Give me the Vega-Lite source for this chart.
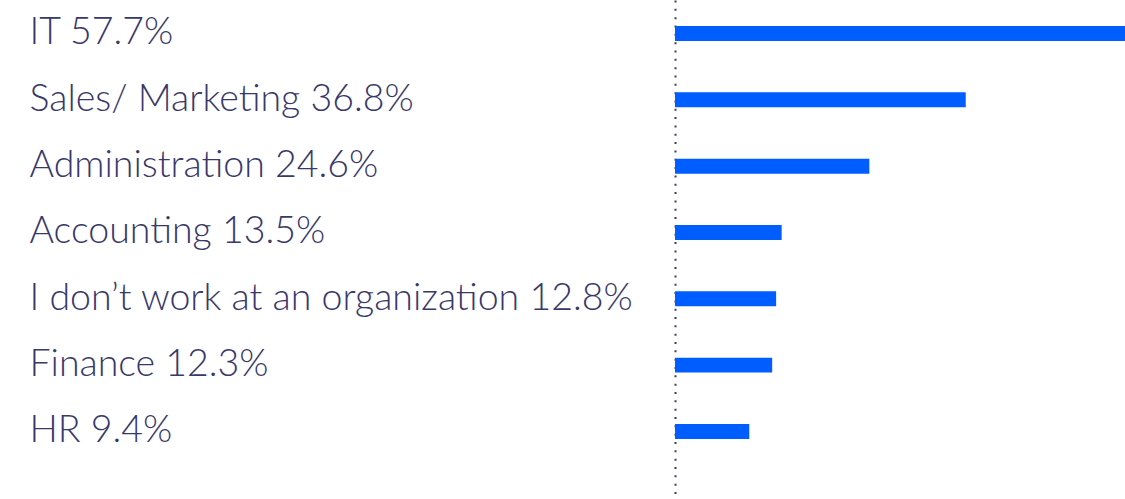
{
  "$schema": "https://vega.github.io/schema/vega-lite/v6.json",
  "width": 450,
  "height": 499,
  "padding": {"left": 675, "top": 0, "right": 0, "bottom": 0},
  "autosize": {"type": "none"},
  "background": "white",
  "config": {"view": {"stroke": null}},
  "data": {
    "values": [
      {"category": "IT", "value": 57.7},
      {"category": "Sales/ Marketing", "value": 36.8},
      {"category": "Administration", "value": 24.6},
      {"category": "Accounting", "value": 13.5},
      {"category": "I don’t work at an organization", "value": 12.8},
      {"category": "Finance", "value": 12.3},
      {"category": "HR", "value": 9.4}
    ]
  },
  "transform": [
    {"calculate": "datum.category + ' ' + format(datum.value, '.1f') + '%'", "as": "label"}
  ],
  "mark": {"type": "bar", "color": "#005DFF", "clip": true},
  "encoding": {
    "y": {
      "field": "label",
      "type": "nominal",
      "sort": null,
      "scale": {"paddingInner": 0.774, "paddingOuter": 0.6485, "align": 0.302},
      "axis": {
        "title": null,
        "ticks": false,
        "domain": true,
        "domainColor": "#3b3b6b",
        "domainWidth": 2,
        "domainDash": [2, 6.33],
        "labelAlign": "left",
        "labelBaseline": "middle",
        "labelPadding": 646,
        "labelLimit": 0,
        "labelFont": "Lato",
        "labelFontWeight": 300,
        "labelFontSize": 37.5,
        "labelColor": "#38386a"
      }
    },
    "x": {
      "field": "value",
      "type": "quantitative",
      "scale": {"domain": [0, 56.96], "nice": false, "zero": true},
      "axis": null
    }
  }
}
